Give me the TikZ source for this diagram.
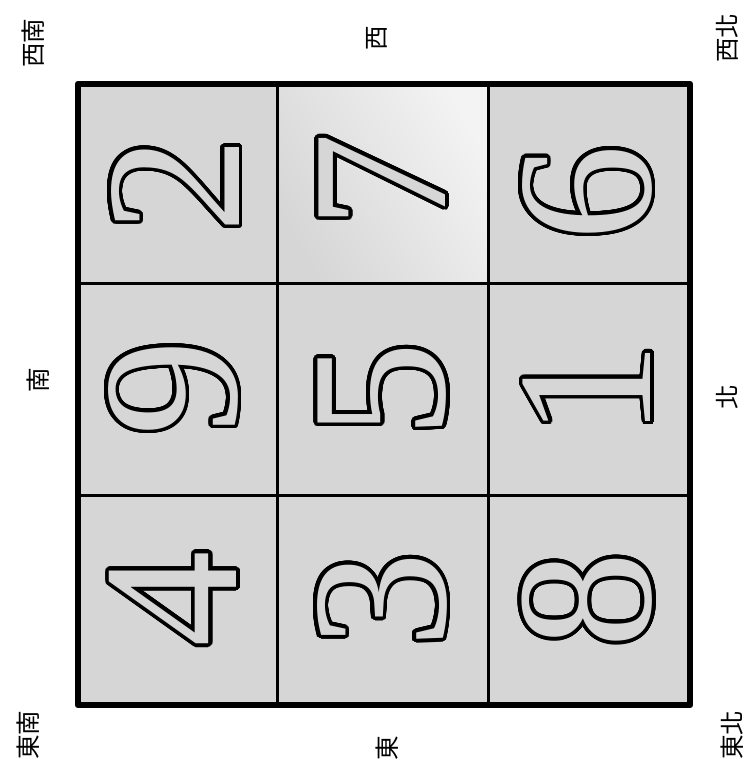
\documentclass[tikz,border=0pt]{standalone}
\usepackage{fontspec}
\setmainfont{Liberation Serif}
\newfontfamily\cjk{Noto Sans CJK TC}
\usepackage{contour}
\contourlength{1.1mm}
\contournumber{40}
\definecolor{cellgray}{gray}{0.84}
\tikzset{
  digit/.style={rotate=90, inner sep=0pt, font=\fontsize{165}{165}\selectfont},
  dirlabel/.style={rotate=90, inner sep=0pt, font=\cjk\fontsize{21}{21}\selectfont},
  outerframe/.style={line width=2mm, line join=round},
  divider/.style={line width=0.9mm}
}
\newcommand{\holdigit}[1]{\contour{black}{\textcolor{cellgray}{#1}}}
\begin{document}
\begin{tikzpicture}[x=0.3mm, y=-0.3mm]
\useasboundingbox (0,0) rectangle (754,771);
% cells
\fill[cellgray] (78,84) rectangle (690,705);
\shade[left color=cellgray!30!white, right color=cellgray, shading angle=300] (277,84) rectangle (488,283);
% dividers
\draw[divider] (277,84) -- (277,705);
\draw[divider] (488,84) -- (488,705);
\draw[divider] (78,283) -- (690,283);
\draw[divider] (78,495) -- (690,495);
\draw[outerframe] (78,84) rectangle (690,705);
% digits (rotated Lo Shu square)
\node[digit] (d2) at (177,185) {\holdigit{2}};
\node[digit] (d7) at (384,181) {\holdigit{7}};
\node[digit] (d6) at (589,193) {\holdigit{6}};
\node[digit] (d9) at (175,388) {\holdigit{9}};
\node[digit] (d5) at (384,390) {\holdigit{5}};
\node[digit] (d1) at (589,390) {\holdigit{1}};
\node[digit] (d4) at (175,599) {\holdigit{4}};
\node[digit] (d3) at (384,600) {\holdigit{3}};
\node[digit] (d8) at (589,600) {\holdigit{8}};
% direction labels
\node[dirlabel] (sw) at (33,43) {西南};
\node[dirlabel] (w) at (377,38) {西};
\node[dirlabel] (nw) at (727,38) {西北};
\node[dirlabel] (s) at (38,380) {南};
\node[dirlabel] (n) at (727,397) {北};
\node[dirlabel] (se) at (28,735) {東南};
\node[dirlabel] (e) at (387,748) {東};
\node[dirlabel] (ne) at (732,735) {東北};
\end{tikzpicture}
\end{document}
